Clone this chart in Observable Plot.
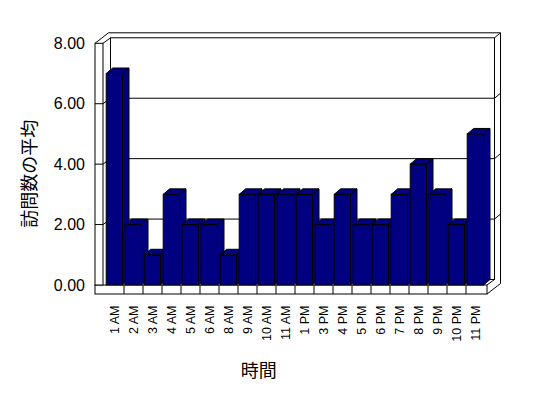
<!DOCTYPE html>
<html><head><meta charset="utf-8">
<script src="https://cdn.jsdelivr.net/npm/d3@7"></script>
<script src="https://cdn.jsdelivr.net/npm/@observablehq/plot@0.6"></script>
<style>body{margin:0;background:#fff}svg{display:block}</style>
</head><body><div id="chart"></div>
<script>
const hours = ["1 AM","2 AM","3 AM","4 AM","5 AM","6 AM","8 AM","9 AM","10 AM","11 AM","1 PM","3 PM","4 PM","5 PM","6 PM","7 PM","8 PM","9 PM","10 PM","11 PM"];
const visits = [7,2,1,3,2,2,1,3,3,3,3,2,3,2,2,3,4,3,2,5];
const yTicks = [0,2,4,6,8];
const xTitle = "時間";
const yTitle = "訪問数の平均";

const data = hours.map((h, i) => ({hour: h, value: visits[i]}));

const NAVY = "#000080";
const DX = 6.5, DY = -5.5;       // bar depth
const B1 = [7.5, -5.5];          // front plane -> back wall front face
const B2 = [13.5, -10.5];        // front plane -> back wall back face
const WALL = 8, FLOOR = 9;

function walls(index, scales, values, dims) {
  const {y} = scales;
  const xl = dims.marginLeft - 0.5, xr = dims.width - dims.marginRight;
  const y0 = y(0), yt = y(d3.max(yTicks));
  const g = d3.create("svg:g").attr("fill", "none").attr("stroke", "#000").attr("stroke-width", 1);
  const line = (a, b, c, d) => g.append("line").attr("x1", a).attr("y1", b).attr("x2", c).attr("y2", d);
  g.append("rect").attr("x", xl + B1[0]).attr("y", yt + B1[1]).attr("width", xr - xl).attr("height", y0 - yt);
  line(xl - WALL + B2[0], yt + B2[1], xr + B2[0], yt + B2[1]);
  line(xr + B1[0], yt + B1[1], xr + B2[0], yt + B2[1]);
  line(xr + B2[0], yt + B2[1], xr + B2[0], y0 + FLOOR + B2[1]);
  line(xr, y0 + FLOOR, xr + B2[0], y0 + FLOOR + B2[1]);
  line(xr, y0, xr + B1[0], y0 + B1[1]);
  g.append("rect").attr("x", xl - WALL).attr("y", y0).attr("width", xr - xl + WALL).attr("height", FLOOR).attr("fill", "#fff");
  for (let i = 1; i < hours.length; ++i) {
    const xi = scales.x(hours[i]);
    line(xi, y0, xi, y0 + FLOOR);
  }
  g.append("rect").attr("x", xl - WALL).attr("y", yt).attr("width", WALL).attr("height", y0 - yt).attr("fill", "#fff");
  line(xl - WALL, yt, xl - WALL + B2[0], yt + B2[1]);
  line(xl, yt, xl + B1[0], yt + B1[1]);
  for (const i of index) {
    const yv = values.y[i];
    if (yv === y0 || yv === yt) continue;
    line(xl - WALL, yv, xl, yv);
    line(xl, yv, xl + B1[0], yv + B1[1]);
    line(xl + B1[0], yv + B1[1], xr + B1[0], yv + B1[1]);
    line(xr + B1[0], yv + B1[1], xr + B2[0], yv + B2[1]);
  }
  return g.node();
}

function bars3d(index, scales, values, dims) {
  const bw = scales.x.bandwidth();
  const g = d3.create("svg:g").attr("fill", NAVY).attr("stroke", "#000").attr("stroke-width", 1);
  for (const i of index) {
    const x1 = values.x[i] + 1.2, x2 = x1 + bw - 2.7;
    const ya = Math.min(values.y1[i], values.y2[i]), yb = Math.max(values.y1[i], values.y2[i]);
    g.append("rect").attr("x", x1).attr("y", ya).attr("width", x2 - x1).attr("height", yb - ya);
    g.append("path").attr("d", `M${x1},${ya}L${x1 + DX},${ya + DY}L${x2 + DX},${ya + DY}L${x2},${ya}Z`);
    g.append("path").attr("d", `M${x2},${ya}L${x2 + DX},${ya + DY}L${x2 + DX},${yb + DY}L${x2},${yb}Z`);
  }
  return g.node();
}

const chart = Plot.plot({
  width: 548,
  height: 398,
  marginLeft: 103.5,
  marginRight: 61,
  marginTop: 43.3,
  marginBottom: 113,
  style: {fontFamily: "'Liberation Sans', Arial, sans-serif", background: "#fff", color: "#000"},
  x: {type: "band", domain: hours, padding: 0, axis: null},
  y: {domain: [0, 8], axis: null},
  marks: [
    Plot.ruleY(yTicks, {y: d => d, render: walls}),
    Plot.barY(data, {x: "hour", y: "value", render: bars3d}),
    Plot.axisY(yTicks, {tickFormat: d3.format(".2f"), tickSize: 0, tickPadding: 19, fontSize: 16, label: null}),
    Plot.axisX({tickRotate: -90, tickSize: 0, tickPadding: 20, fontSize: 12.5, label: null, textAnchor: "end"}),
    Plot.text([xTitle], {frameAnchor: "bottom", dx: -37, dy: 91, fontSize: 18, fontFamily: "'Noto Sans CJK JP', sans-serif"}),
    Plot.text([yTitle], {frameAnchor: "left", textAnchor: "middle", rotate: -90, dx: -74, dy: 9, fontSize: 18, fontFamily: "'Noto Sans CJK JP', sans-serif"})
  ]
});
document.getElementById("chart").append(chart);
</script>
</body></html>
